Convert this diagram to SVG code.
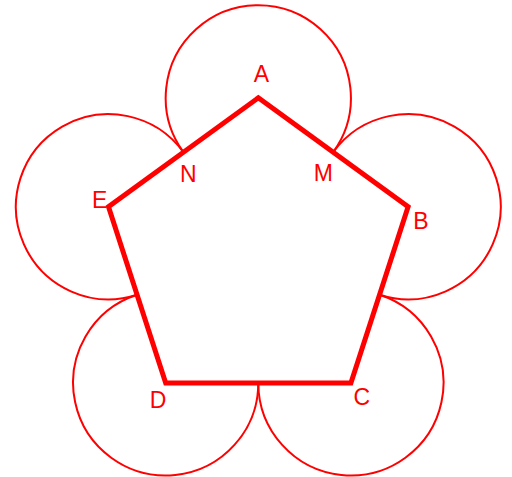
<svg xmlns="http://www.w3.org/2000/svg" width="512" height="477" viewBox="0 0 512 477">
<style>
.arc{fill:none;stroke:#ff0000;stroke-width:2}
.pent{fill:none;stroke:#ff0000;stroke-width:5;stroke-linejoin:miter}
.lbl{font-family:"Liberation Sans",Arial,sans-serif;font-size:23px;fill:#ff0000;text-anchor:middle}
</style>
<rect width="512" height="477" fill="#ffffff"/>
<g id="circles">
<path class="arc" d="M183.4 152.2 A92.6 92.6 0 1 1 333.2 152.2"/>
<path class="arc" d="M333.2 152.2 A92.6 92.6 0 1 1 379.5 294.8"/>
<path class="arc" d="M379.5 294.8 A92.6 92.6 0 1 1 258.3 383"/>
<path class="arc" d="M258.3 383 A92.6 92.6 0 1 1 137.1 294.8"/>
<path class="arc" d="M137.1 294.8 A92.6 92.6 0 1 1 183.4 152.2"/>
</g>
<g id="pentagon">
<polygon class="pent" points="258.3,97.8 408.1,206.8 350.9,383 165.7,383 108.5,206.8"/>
</g>
<g id="labels">
<text class="lbl" x="261.5" y="81.5">A</text>
<text class="lbl" x="421" y="228.5">B</text>
<text class="lbl" x="361.7" y="404.5">C</text>
<text class="lbl" x="158" y="407.5">D</text>
<text class="lbl" x="99.7" y="207.5">E</text>
<text class="lbl" x="323.3" y="180.5">M</text>
<text class="lbl" x="188.3" y="182">N</text>
</g>
</svg>
